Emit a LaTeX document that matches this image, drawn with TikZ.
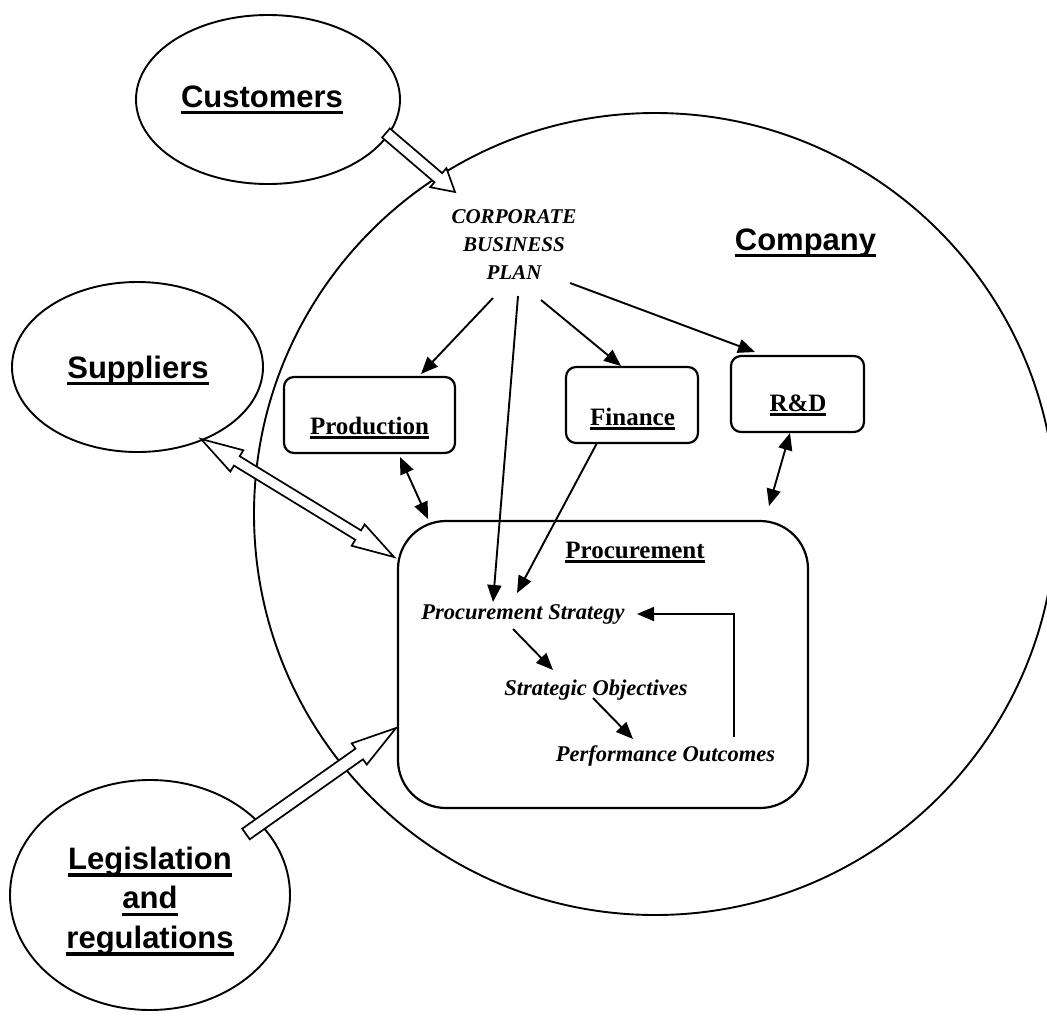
\documentclass[tikz,border=0pt]{standalone}
\usepackage{fontspec}
\setmainfont{Liberation Serif}
\newfontfamily\headsans{Liberation Sans}
\usetikzlibrary{arrows.meta,shapes.geometric,calc}

% underline with a chosen gap below the baseline and a chosen thickness
\newcommand{\ulbar}[3]{\leavevmode\setbox0\hbox{#3}\rlap{\raisebox{\dimexpr-#1-#2\relax}{\rule{\wd0}{#2}}}\box0}

% white block arrow from #1 (tail) to #2 (tip): shaft half width #3, head half width #4, head length #5
\newcommand{\blockarrow}[5]{%
  \coordinate (ba-c) at ($(#2)!#5!(#1)$);
  \draw[hollow] ($(#1)!#3!90:(#2)$) -- ($(ba-c)!#3!90:(#2)$) -- ($(ba-c)!#4!90:(#2)$)
    -- (#2) -- ($(ba-c)!#4!-90:(#2)$) -- ($(ba-c)!#3!-90:(#2)$) -- ($(#1)!#3!-90:(#2)$) -- cycle;}

% white block arrow with a head at both ends
\newcommand{\blockarrowboth}[5]{%
  \coordinate (bb-a) at ($(#1)!#5!(#2)$);
  \coordinate (bb-b) at ($(#2)!#5!(#1)$);
  \draw[hollow] (#1) -- ($(bb-a)!#4!90:(#2)$) -- ($(bb-a)!#3!90:(#2)$) -- ($(bb-b)!#3!90:(#2)$)
    -- ($(bb-b)!#4!90:(#2)$) -- (#2) -- ($(bb-b)!#4!-90:(#2)$) -- ($(bb-b)!#3!-90:(#2)$)
    -- ($(bb-a)!#3!-90:(#2)$) -- ($(bb-a)!#4!-90:(#2)$) -- cycle;}

\begin{document}
\begin{tikzpicture}[x=1pt,y=-1pt,
  oval/.style={draw, line width=1.9pt, ellipse, inner sep=0pt},
  dept/.style={draw, line width=2.2pt, rounded corners=10pt, inner sep=0pt},
  hollow/.style={draw, fill=white, line width=1.7pt, line join=miter},
  sanslabel/.style={font={\headsans\bfseries\fontsize{31pt}{39.5pt}\selectfont}, inner sep=0pt, align=center},
  deptlabel/.style={font={\bfseries\fontsize{25pt}{30pt}\selectfont}, inner sep=0pt, anchor=base},
  steplabel/.style={font={\bfseries\itshape\fontsize{22.5pt}{27pt}\selectfont}, inner sep=0pt, anchor=base},
  arr/.style={-{Triangle[length=17pt,width=14pt]}, line width=1.9pt},
  darr/.style={{Triangle[length=17pt,width=14pt]}-{Triangle[length=17pt,width=14pt]}, line width=1.9pt}
]
\useasboundingbox (0,0) rectangle (1047,1015);
\fill[white] (0,0) rectangle (1047,1015);

% the company and the outside parties
\node[draw, line width=1.9pt, circle, inner sep=0pt, minimum size=802pt] (company) at (655,514) {};
\node[oval, minimum width=264pt, minimum height=169pt] (cust) at (268,99.5) {};
\node[oval, minimum width=251pt, minimum height=170pt] (supp) at (137.5,367) {};
\node[oval, minimum width=280pt, minimum height=230pt] (legis) at (150,895) {};

\node[sanslabel, anchor=base] (custtxt) at (262,107) {\ulbar{4pt}{3.3pt}{Customers}};
\node[sanslabel, anchor=base] (supptxt) at (138,378) {\ulbar{4pt}{3.3pt}{Suppliers}};
\node[sanslabel, anchor=north] (legistxt) at (150,846.8)
  {\ulbar{4pt}{3.3pt}{Legislation}\\ \ulbar{4pt}{3.3pt}{and}\\ \ulbar{4pt}{3.3pt}{regulations}};
\node[sanslabel, anchor=base] (comptxt) at (805.5,250) {\ulbar{4pt}{3.3pt}{Company}};

% corporate business plan
\node[font={\bfseries\itshape\fontsize{21pt}{28pt}\selectfont}, inner sep=0pt, align=center, anchor=north]
  (cbp) at (514,209) {CORPORATE\\BUSINESS\\PLAN};

% departments
\node[dept, minimum width=171pt, minimum height=76pt] (prod) at (369.5,415) {};
\node[dept, minimum width=132pt, minimum height=76pt] (fin) at (632,405) {};
\node[dept, minimum width=133pt, minimum height=76pt] (rd) at (797.5,394) {};
\node[dept, rounded corners=48pt, minimum width=410pt, minimum height=287pt] (proc) at (603,664.5) {};

\node[deptlabel] (prodtxt) at (369.5,434) {\ulbar{1.8pt}{3pt}{Production}};
\node[deptlabel] (fintxt) at (632.5,425) {\ulbar{1.8pt}{3pt}{Finance}};
\node[deptlabel] (rdtxt) at (798,411) {\ulbar{1.8pt}{3pt}{R\&D}};
\node[deptlabel] (proctxt) at (635,558) {\ulbar{1.8pt}{3pt}{Procurement}};

% procurement cycle
\node[steplabel] (strat) at (523,619) {Procurement Strategy};
\node[steplabel] (obj) at (596,695) {Strategic Objectives};
\node[steplabel] (perf) at (665.5,761) {Performance Outcomes};

% connector end points
\coordinate (cbp-prod) at (493,298);   \coordinate (prod-in) at (421,374);
\coordinate (cbp-strat) at (518,296);  \coordinate (strat-in) at (493,602);
\coordinate (cbp-fin) at (541,300);    \coordinate (fin-in) at (621,366);
\coordinate (cbp-rd) at (570,283);     \coordinate (rd-in) at (755,352);
\coordinate (fin-out) at (597,443);    \coordinate (strat-in2) at (517,593);
\coordinate (prod-out) at (400,457);   \coordinate (proc-prod) at (428,519);
\coordinate (rd-out) at (790,433);     \coordinate (proc-rd) at (769,506);
\coordinate (strat-out) at (513,629);  \coordinate (obj-in) at (553,670);
\coordinate (obj-out) at (593,698);    \coordinate (perf-in) at (633,739);
\coordinate (perf-out) at (734,737);   \coordinate (strat-back) at (637,614);

\draw[arr] (cbp-prod) -- (prod-in);
\draw[arr] (cbp-strat) -- (strat-in);
\draw[arr] (cbp-fin) -- (fin-in);
\draw[arr] (cbp-rd) -- (rd-in);
\draw[arr] (fin-out) -- (strat-in2);
\draw[darr] (prod-out) -- (proc-prod);
\draw[darr] (rd-out) -- (proc-rd);
\draw[arr] (strat-out) -- (obj-in);
\draw[arr] (obj-out) -- (perf-in);
\draw[arr] (perf-out) |- (strat-back);

% influences from outside
\coordinate (cust-out) at (386,133);  \coordinate (cbp-top) at (455,192);
\coordinate (supp-end) at (201,439);  \coordinate (proc-supp) at (394,557);
\coordinate (legis-out) at (246,834); \coordinate (proc-legis) at (396,728);
\blockarrow{cust-out}{cbp-top}{6pt}{12.5pt}{22pt}
\blockarrowboth{supp-end}{proc-supp}{5.5pt}{12.5pt}{42pt}
\blockarrow{legis-out}{proc-legis}{6.5pt}{13pt}{45pt}
\end{tikzpicture}
\end{document}
